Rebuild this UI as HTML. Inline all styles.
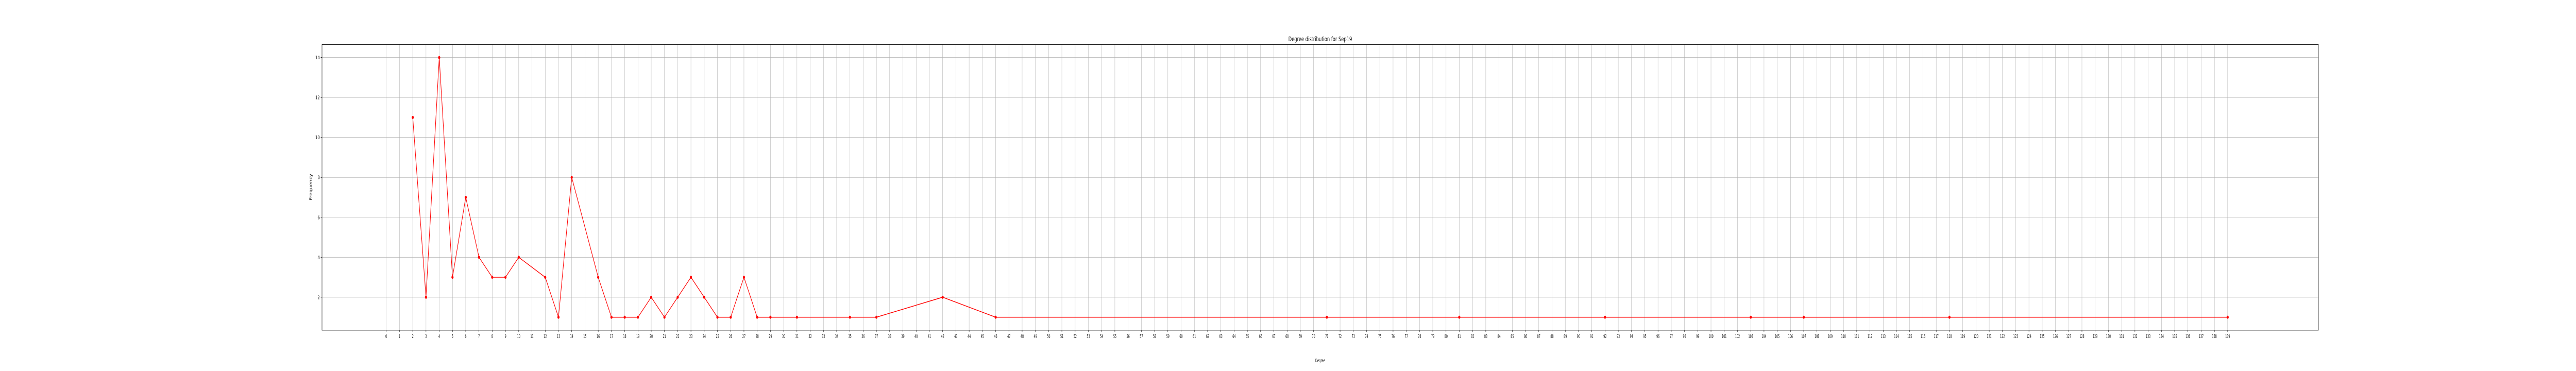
<!DOCTYPE html>
<html><head><meta charset="utf-8"><style>
html,body{margin:0;padding:0;background:#fff;overflow:hidden;width:100vw;height:100vh;}
svg{display:block;width:100vw;height:100vh;font-family:"DejaVu Sans","Liberation Sans",sans-serif;}
</style></head><body>
<svg id="chart" viewBox="0 0 7200 720" preserveAspectRatio="none" xmlns="http://www.w3.org/2000/svg">
<rect width="7200" height="720" fill="#fff"/>
<text x="3690" y="80" text-anchor="middle" font-size="12" fill="#000">Degree distribution for Sep19</text>
<g id="grid"></g>
<g id="series"></g>
<rect x="900" y="86.4" width="5580" height="554.4" fill="none" stroke="#000" stroke-width="1"/>
<g id="ticks"></g>
<text x="3690" y="703" text-anchor="middle" font-size="10" fill="#000" transform="translate(3690 0) scale(0.75 1) translate(-3690 0)">Degree</text>
<text x="0" y="0" text-anchor="middle" font-size="10" fill="#000" transform="translate(872 363) rotate(-90)">Frequency</text>
</svg>
<script>
const degrees = [2,3,4,5,6,7,8,9,10,12,13,14,16,17,18,19,20,21,22,23,24,25,26,27,28,29,31,35,37,42,46,71,81,92,103,107,118,139];
const frequencies = [11,2,14,3,7,4,3,3,4,3,1,8,3,1,1,1,2,1,2,3,2,1,1,3,1,1,1,1,1,2,1,1,1,1,1,1,1,1];
const yTickValues = [2,4,6,8,10,12,14];
const xTickMax = 139;

const NS = "http://www.w3.org/2000/svg";
const L = 900, R = 6480, T = 86.4, B = 640.8;
const xmin = -4.85, xmax = 145.85, ymin = 0.35, ymax = 14.65;
function xs(v){ return L + (v - xmin) / (xmax - xmin) * (R - L); }
function ys(v){ return B - (v - ymin) / (ymax - ymin) * (B - T); }
function mk(tag, attrs, parent){ const e = document.createElementNS(NS, tag); for (const k in attrs) e.setAttribute(k, attrs[k]); parent.appendChild(e); return e; }

const grid = document.getElementById('grid');
const ticks = document.getElementById('ticks');
const series = document.getElementById('series');

for (let d = 0; d <= xTickMax; d++) {
  const x = xs(d);
  const g = mk('line', {x1:x, x2:x, y1:T, y2:B, stroke:'#b0b0b0', 'stroke-width':0.8}, grid);
  
  
  const t = mk('line', {x1:x, x2:x, y1:B, y2:B+3.5, stroke:'#000', 'stroke-width':0.8}, ticks);
  
  
  const lb = mk('text', {x:x, y:B+15, 'text-anchor':'middle', 'font-size':10, fill:'#000', transform:`translate(${x} 0) scale(0.7 1) translate(${-x} 0)`}, ticks);
  lb.textContent = String(d);
  
  
}
for (const v of yTickValues) {
  const y = ys(v);
  const g = mk('line', {x1:L, x2:R, y1:y, y2:y, stroke:'#b0b0b0', 'stroke-width':0.8}, grid);
  
  
  const t = mk('line', {x1:L-3.5, x2:L, y1:y, y2:y, stroke:'#000', 'stroke-width':0.8}, ticks);
  
  
  const lb = mk('text', {x:L-6, y:y+3.5, 'text-anchor':'end', 'font-size':10, fill:'#000'}, ticks);
  lb.textContent = String(v);
  
  
}
const pts = degrees.map((d, i) => xs(d).toFixed(2) + ',' + ys(frequencies[i]).toFixed(2)).join(' ');
const line = mk('polyline', {points:pts, fill:'none', stroke:'#ff0000', 'stroke-width':1.5}, series);


degrees.forEach((d, i) => {
  const c = mk('circle', {cx:xs(d), cy:ys(frequencies[i]), r:3, fill:'#ff0000'}, series);
  
  
});
</script>
</body></html>
